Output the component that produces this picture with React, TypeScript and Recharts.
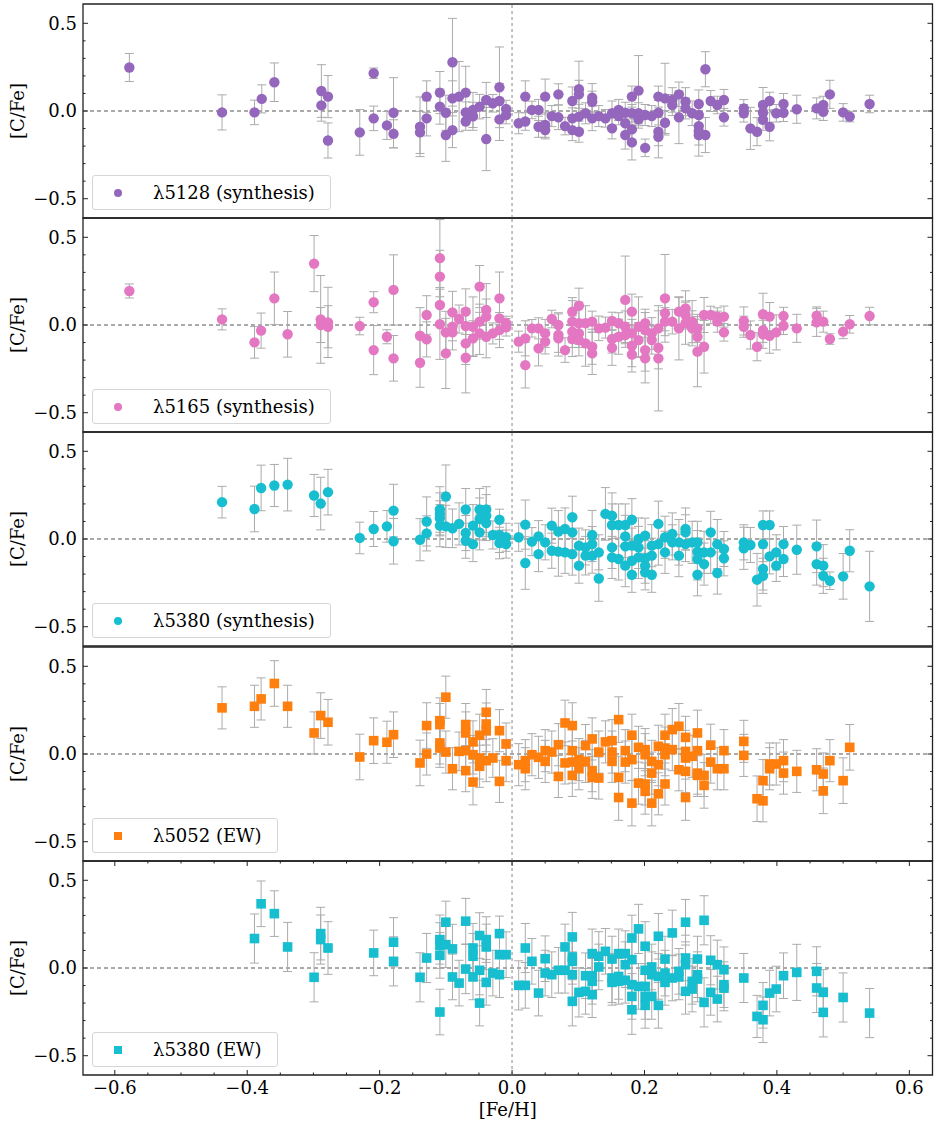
import React from 'react';
import { ScatterChart, Scatter, XAxis, YAxis, ErrorBar, ReferenceLine, ReferenceArea, Legend } from 'recharts';

type Pt = [number, number, number]; // [Fe/H], [C/Fe], error

const feMajorTicks = [-0.6, -0.4, -0.2, 0, 0.2, 0.4, 0.6];
const feMinorTicks = [-0.55, -0.5, -0.45, -0.35, -0.3, -0.25, -0.15, -0.1, -0.05, 0.05, 0.1, 0.15, 0.25, 0.3, 0.35, 0.45, 0.5, 0.55];
const cfeMajorTicks = [-0.5, 0, 0.5];
const cfeMinorTicks = [-0.4, -0.3, -0.2, -0.1, 0.1, 0.2, 0.3, 0.4];

const labels = ['λ5128 (synthesis)', 'λ5165 (synthesis)', 'λ5380 (synthesis)', 'λ5052 (EW)', 'λ5380 (EW)'];
const colors = ['#9467bd', '#e377c2', '#17becf', '#ff7f0e', '#17becf'];
const markers = ['circle', 'circle', 'circle', 'square', 'square'];

const s5128syn: Pt[] = [
  [-0.578, 0.248, 0.08], [-0.438, -0.008, 0.10], [-0.389, -0.008, 0.07], [-0.378, 0.069, 0.08],
  [-0.359, 0.164, 0.11], [-0.288, 0.114, 0.15], [-0.288, 0.032, 0.09], [-0.278, 0.082, 0.12],
  [-0.278, -0.168, 0.10], [-0.230, -0.122, 0.13], [-0.209, 0.215, 0.03], [-0.209, -0.042, 0.07],
  [-0.189, -0.082, 0.08], [-0.179, -0.010, 0.20], [-0.179, -0.130, 0.08], [-0.139, -0.090, 0.17],
  [-0.139, -0.122, 0.12], [-0.129, 0.082, 0.09], [-0.129, -0.042, 0.10],
  [-0.109, 0.105, 0.12], [-0.109, 0.025, 0.10], [-0.100, -0.010, 0.10], [-0.100, -0.137, 0.15],
  [-0.090, 0.278, 0.25], [-0.090, 0.072, 0.10], [-0.090, -0.109, 0.10], [-0.080, 0.082, 0.20],
  [-0.070, 0.105, 0.15], [-0.070, -0.008, 0.06], [-0.070, -0.060, 0.05], [-0.059, 0.006, 0.10],
  [-0.059, -0.030, 0.08], [-0.049, 0.025, 0.07], [-0.039, 0.063, 0.10], [-0.039, -0.160, 0.18],
  [-0.029, 0.044, 0.05], [-0.019, 0.135, 0.23], [-0.019, 0.057, 0.10], [-0.019, -0.048, 0.12],
  [-0.009, 0.011, 0.05], [-0.009, -0.023, 0.05], [0.010, -0.070, 0.06], [0.020, 0.082, 0.09],
  [0.020, -0.060, 0.05], [0.030, 0.006, 0.05], [0.040, 0.006, 0.06], [0.040, -0.090, 0.06],
  [0.050, 0.082, 0.10], [0.050, -0.080, 0.07], [0.050, -0.109, 0.05], [0.060, -0.029, 0.06],
  [0.070, 0.095, 0.06], [0.070, -0.036, 0.07], [0.080, -0.086, 0.05], [0.091, 0.057, 0.08],
  [0.091, -0.042, 0.06], [0.091, -0.109, 0.06], [0.101, 0.124, 0.16], [0.101, 0.095, 0.08],
  [0.101, -0.032, 0.07], [0.101, -0.118, 0.06], [0.111, -0.013, 0.06], [0.121, 0.076, 0.08],
  [0.121, 0.053, 0.06], [0.121, -0.042, 0.07], [0.131, -0.029, 0.06], [0.141, -0.042, 0.05],
  [0.151, -0.099, 0.06], [0.151, -0.013, 0.07], [0.161, 0.006, 0.06], [0.161, -0.029, 0.05],
  [0.171, -0.010, 0.06], [0.171, -0.070, 0.08], [0.171, -0.137, 0.08], [0.181, 0.082, 0.06],
  [0.181, -0.013, 0.05], [0.181, -0.105, 0.06], [0.181, -0.179, 0.10], [0.191, 0.116, 0.20],
  [0.191, -0.013, 0.06], [0.191, -0.048, 0.05], [0.201, -0.023, 0.06], [0.201, -0.210, 0.05],
  [0.211, -0.029, 0.06], [0.221, 0.082, 0.06], [0.221, -0.010, 0.07], [0.221, -0.118, 0.08],
  [0.221, -0.147, 0.12], [0.231, 0.072, 0.20], [0.231, -0.067, 0.07], [0.242, 0.034, 0.06],
  [0.242, 0.063, 0.07], [0.252, 0.095, 0.07], [0.252, -0.036, 0.15], [0.262, 0.053, 0.08],
  [0.262, 0.015, 0.06], [0.272, -0.013, 0.07], [0.282, 0.040, 0.08], [0.282, -0.023, 0.06],
  [0.282, -0.086, 0.07], [0.282, -0.114, 0.08], [0.282, -0.137, 0.12], [0.292, 0.238, 0.10],
  [0.292, -0.137, 0.10], [0.300, 0.057, 0.06], [0.310, 0.034, 0.05], [0.320, 0.063, 0.06],
  [0.320, -0.036, 0.05], [0.350, 0.015, 0.05], [0.350, -0.013, 0.05], [0.360, -0.099, 0.12],
  [0.370, -0.118, 0.08], [0.379, 0.034, 0.10], [0.379, -0.010, 0.06], [0.379, -0.050, 0.06],
  [0.389, 0.057, 0.05], [0.389, -0.090, 0.08], [0.399, -0.013, 0.05], [0.410, 0.040, 0.06],
  [0.410, -0.010, 0.05], [0.430, 0.010, 0.08], [0.460, 0.015, 0.06], [0.470, 0.034, 0.05],
  [0.470, -0.004, 0.05], [0.480, 0.095, 0.08], [0.500, -0.008, 0.05], [0.510, -0.032, 0.03],
  [0.540, 0.040, 0.05],
];

const s5165syn: Pt[] = [
  [-0.578, 0.194, 0.04], [-0.438, 0.032, 0.06], [-0.389, -0.099, 0.09], [-0.379, -0.032, 0.10],
  [-0.359, 0.152, 0.15], [-0.339, -0.053, 0.13], [-0.299, 0.350, 0.16], [-0.289, 0.032, 0.25],
  [-0.289, 0.000, 0.10], [-0.278, 0.015, 0.20], [-0.278, -0.010, 0.12], [-0.230, -0.006, 0.05],
  [-0.209, 0.130, 0.06], [-0.209, -0.143, 0.14], [-0.189, -0.067, 0.04], [-0.179, 0.200, 0.20],
  [-0.179, -0.190, 0.13], [-0.139, -0.061, 0.16], [-0.139, -0.215, 0.14], [-0.129, 0.057, 0.11],
  [-0.129, -0.082, 0.10], [-0.109, 0.381, 0.22], [-0.109, 0.276, 0.15], [-0.109, 0.114, 0.10],
  [-0.109, 0.004, 0.20], [-0.100, -0.042, 0.12], [-0.100, -0.162, 0.20], [-0.090, 0.072, 0.12],
  [-0.090, -0.042, 0.10], [-0.090, -0.010, 0.08], [-0.080, 0.034, 0.08], [-0.070, 0.076, 0.13],
  [-0.070, -0.006, 0.10], [-0.070, -0.105, 0.12], [-0.070, -0.187, 0.20], [-0.059, -0.010, 0.17],
  [-0.059, -0.076, 0.10], [-0.049, 0.219, 0.12], [-0.049, 0.019, 0.10], [-0.049, -0.048, 0.12],
  [-0.039, 0.086, 0.15], [-0.039, 0.048, 0.10], [-0.039, -0.067, 0.12], [-0.029, -0.048, 0.06],
  [-0.019, 0.152, 0.15], [-0.019, 0.038, 0.12], [-0.019, -0.029, 0.10], [-0.009, 0.010, 0.04],
  [-0.009, -0.013, 0.05], [0.010, -0.095, 0.06], [0.020, -0.076, 0.10], [0.020, -0.229, 0.13],
  [0.030, -0.019, 0.05], [0.040, -0.019, 0.06], [0.040, -0.133, 0.10], [0.050, -0.048, 0.08],
  [0.050, -0.095, 0.07], [0.060, 0.034, 0.05], [0.070, 0.000, 0.07], [0.070, -0.057, 0.12],
  [0.070, -0.076, 0.08], [0.080, -0.143, 0.07], [0.091, 0.076, 0.08], [0.091, 0.019, 0.12],
  [0.091, -0.038, 0.09], [0.091, -0.080, 0.10], [0.101, 0.110, 0.10], [0.101, 0.010, 0.12],
  [0.101, -0.048, 0.08], [0.101, -0.086, 0.09], [0.111, 0.010, 0.10], [0.111, -0.105, 0.13],
  [0.121, 0.019, 0.06], [0.121, -0.124, 0.10], [0.121, -0.162, 0.12], [0.131, -0.019, 0.07],
  [0.141, -0.015, 0.06], [0.151, 0.023, 0.05], [0.151, -0.080, 0.08], [0.151, -0.130, 0.10],
  [0.161, 0.010, 0.06], [0.161, -0.067, 0.10], [0.171, 0.143, 0.25], [0.171, -0.010, 0.09],
  [0.171, -0.057, 0.07], [0.181, 0.076, 0.10], [0.181, -0.048, 0.08], [0.181, -0.118, 0.12],
  [0.181, -0.168, 0.10], [0.191, -0.010, 0.17], [0.191, -0.086, 0.10], [0.201, 0.010, 0.08],
  [0.201, -0.029, 0.10], [0.201, -0.143, 0.12], [0.201, -0.190, 0.14], [0.211, -0.048, 0.09],
  [0.211, -0.086, 0.08], [0.221, -0.019, 0.10], [0.221, -0.130, 0.12], [0.221, -0.190, 0.30],
  [0.231, 0.152, 0.25], [0.231, 0.067, 0.10], [0.231, 0.019, 0.08], [0.242, 0.019, 0.07],
  [0.252, 0.076, 0.08], [0.252, -0.019, 0.18], [0.262, 0.095, 0.10], [0.262, 0.057, 0.08],
  [0.262, 0.010, 0.12], [0.272, 0.019, 0.12], [0.272, -0.019, 0.10], [0.280, -0.019, 0.08],
  [0.280, -0.067, 0.10], [0.280, -0.152, 0.20], [0.290, 0.057, 0.10], [0.290, -0.124, 0.15],
  [0.300, 0.057, 0.05], [0.310, 0.048, 0.05], [0.310, 0.019, 0.06], [0.320, 0.048, 0.06],
  [0.320, -0.042, 0.05], [0.350, 0.023, 0.08], [0.350, -0.010, 0.06], [0.360, -0.057, 0.08],
  [0.370, -0.124, 0.08], [0.379, 0.061, 0.12], [0.379, -0.029, 0.07], [0.379, -0.053, 0.08],
  [0.389, 0.048, 0.08], [0.389, -0.061, 0.10], [0.399, -0.042, 0.10], [0.410, 0.051, 0.05],
  [0.410, -0.004, 0.05], [0.430, -0.019, 0.08], [0.460, 0.053, 0.05], [0.460, 0.015, 0.08],
  [0.470, 0.019, 0.06], [0.480, -0.080, 0.03], [0.500, -0.038, 0.04], [0.510, 0.004, 0.05],
  [0.540, 0.051, 0.05],
];

const s5380syn: Pt[] = [
  [-0.438, 0.210, 0.09], [-0.389, 0.171, 0.13], [-0.379, 0.291, 0.13], [-0.359, 0.305, 0.12],
  [-0.339, 0.310, 0.15], [-0.299, 0.248, 0.12], [-0.289, 0.202, 0.15], [-0.278, 0.267, 0.13],
  [-0.230, 0.006, 0.09], [-0.209, 0.057, 0.10], [-0.189, 0.072, 0.09], [-0.179, 0.162, 0.15],
  [-0.179, -0.013, 0.13], [-0.139, -0.004, 0.12], [-0.129, 0.100, 0.14], [-0.129, 0.032, 0.10],
  [-0.109, 0.168, 0.13], [-0.109, 0.143, 0.12], [-0.109, 0.118, 0.10], [-0.109, 0.076, 0.12],
  [-0.100, 0.242, 0.18], [-0.100, 0.072, 0.12], [-0.090, 0.061, 0.11], [-0.080, 0.086, 0.12],
  [-0.070, 0.168, 0.12], [-0.070, 0.034, 0.10], [-0.070, -0.010, 0.10], [-0.059, -0.029, 0.10],
  [-0.059, 0.076, 0.12], [-0.049, 0.168, 0.12], [-0.049, 0.114, 0.12], [-0.049, 0.038, 0.10],
  [-0.039, 0.168, 0.13], [-0.039, 0.133, 0.12], [-0.039, 0.091, 0.10], [-0.029, 0.023, 0.08],
  [-0.019, 0.110, 0.06], [-0.019, 0.023, 0.10], [-0.019, -0.023, 0.09], [-0.009, 0.010, 0.08],
  [-0.009, -0.029, 0.08], [0.010, 0.010, 0.08], [0.020, 0.082, 0.14], [0.020, -0.137, 0.15],
  [0.030, -0.015, 0.08], [0.040, 0.015, 0.09], [0.040, -0.086, 0.10], [0.050, -0.019, 0.10],
  [0.060, 0.076, 0.10], [0.060, -0.067, 0.10], [0.070, 0.042, 0.12], [0.070, -0.072, 0.14],
  [0.080, 0.057, 0.12], [0.080, -0.076, 0.12], [0.091, 0.124, 0.12], [0.091, 0.038, 0.10],
  [0.091, -0.086, 0.12], [0.101, -0.038, 0.10], [0.101, -0.152, 0.10], [0.111, -0.048, 0.10],
  [0.111, -0.095, 0.11], [0.121, 0.023, 0.14], [0.121, -0.029, 0.10], [0.121, -0.095, 0.10],
  [0.131, -0.076, 0.10], [0.131, -0.225, 0.13], [0.141, 0.143, 0.15], [0.151, 0.133, 0.13],
  [0.151, 0.080, 0.12], [0.151, -0.048, 0.12], [0.151, -0.105, 0.12], [0.161, 0.080, 0.12],
  [0.161, -0.114, 0.12], [0.171, 0.080, 0.12], [0.171, 0.015, 0.12], [0.171, -0.042, 0.12],
  [0.171, -0.152, 0.12], [0.181, 0.110, 0.12], [0.181, -0.038, 0.10], [0.181, -0.124, 0.10],
  [0.181, -0.204, 0.10], [0.191, 0.000, 0.12], [0.191, -0.048, 0.12], [0.191, -0.105, 0.12],
  [0.201, 0.019, 0.10], [0.201, -0.110, 0.10], [0.201, -0.152, 0.10], [0.201, -0.190, 0.10],
  [0.211, -0.038, 0.12], [0.211, -0.095, 0.10], [0.211, -0.204, 0.10], [0.221, 0.086, 0.13],
  [0.221, -0.029, 0.12], [0.231, 0.010, 0.12], [0.231, -0.076, 0.12], [0.242, 0.029, 0.12],
  [0.242, -0.019, 0.10], [0.252, -0.019, 0.13], [0.252, -0.095, 0.12], [0.262, 0.057, 0.12],
  [0.262, 0.038, 0.10], [0.262, -0.029, 0.10], [0.272, -0.019, 0.12], [0.280, -0.019, 0.12],
  [0.280, -0.072, 0.12], [0.280, -0.114, 0.12], [0.280, -0.204, 0.12], [0.290, -0.076, 0.12],
  [0.290, -0.143, 0.12], [0.300, 0.038, 0.12], [0.300, -0.076, 0.12], [0.310, -0.029, 0.14],
  [0.310, -0.194, 0.12], [0.320, -0.057, 0.10], [0.320, -0.110, 0.10], [0.350, -0.019, 0.10],
  [0.350, -0.053, 0.12], [0.360, -0.034, 0.10], [0.370, -0.232, 0.15], [0.379, 0.080, 0.08],
  [0.379, -0.029, 0.10], [0.379, -0.171, 0.12], [0.379, -0.210, 0.10], [0.389, 0.080, 0.08],
  [0.389, -0.099, 0.10], [0.399, -0.076, 0.10], [0.399, -0.152, 0.09], [0.410, -0.029, 0.10],
  [0.410, -0.114, 0.10], [0.430, -0.061, 0.14], [0.460, -0.042, 0.15], [0.460, -0.143, 0.12],
  [0.470, -0.152, 0.12], [0.470, -0.210, 0.10], [0.480, -0.238, 0.05], [0.500, -0.213, 0.13],
  [0.510, -0.067, 0.12], [0.540, -0.270, 0.20],
];

const s5052ew: Pt[] = [
  [-0.438, 0.263, 0.12], [-0.389, 0.272, 0.12], [-0.379, 0.314, 0.12], [-0.359, 0.402, 0.13],
  [-0.339, 0.272, 0.12], [-0.299, 0.120, 0.12], [-0.289, 0.219, 0.13], [-0.278, 0.181, 0.13],
  [-0.230, -0.017, 0.13], [-0.209, 0.076, 0.13], [-0.189, 0.067, 0.12], [-0.179, 0.110, 0.13],
  [-0.139, -0.051, 0.13], [-0.129, 0.162, 0.13], [-0.129, 0.000, 0.12], [-0.109, 0.190, 0.13],
  [-0.109, 0.168, 0.12], [-0.109, 0.063, 0.12], [-0.109, 0.034, 0.11], [-0.100, 0.324, 0.12],
  [-0.100, 0.011, 0.12], [-0.090, -0.084, 0.12], [-0.080, 0.015, 0.11], [-0.070, 0.168, 0.12],
  [-0.070, 0.120, 0.12], [-0.070, 0.019, 0.12], [-0.070, -0.095, 0.12], [-0.059, 0.069, 0.12],
  [-0.059, -0.004, 0.11], [-0.059, -0.160, 0.13], [-0.049, 0.107, 0.12], [-0.049, -0.023, 0.12],
  [-0.049, -0.070, 0.12], [-0.039, 0.238, 0.13], [-0.039, 0.171, 0.12], [-0.039, 0.133, 0.12],
  [-0.039, -0.038, 0.12], [-0.029, -0.023, 0.11], [-0.019, 0.133, 0.12], [-0.019, -0.156, 0.12],
  [-0.009, 0.057, 0.12], [-0.009, -0.038, 0.12], [0.010, -0.061, 0.12], [0.020, -0.038, 0.12],
  [0.020, -0.084, 0.12], [0.030, -0.004, 0.12], [0.040, -0.019, 0.12], [0.050, 0.019, 0.12],
  [0.050, -0.042, 0.12], [0.060, 0.011, 0.12], [0.070, 0.053, 0.12], [0.070, -0.128, 0.12],
  [0.080, 0.177, 0.13], [0.080, -0.051, 0.12], [0.091, 0.162, 0.13], [0.091, 0.019, 0.12],
  [0.091, -0.046, 0.12], [0.091, -0.122, 0.12], [0.101, -0.032, 0.12], [0.101, -0.084, 0.12],
  [0.111, 0.048, 0.12], [0.111, -0.042, 0.12], [0.121, 0.086, 0.12], [0.121, -0.095, 0.12],
  [0.121, -0.133, 0.12], [0.131, 0.011, 0.12], [0.131, -0.137, 0.12], [0.141, 0.069, 0.12],
  [0.151, 0.076, 0.12], [0.151, 0.011, 0.12], [0.151, -0.042, 0.12], [0.161, 0.196, 0.13],
  [0.161, -0.133, 0.12], [0.161, -0.248, 0.13], [0.171, 0.019, 0.12], [0.171, -0.046, 0.12],
  [0.181, 0.107, 0.12], [0.181, -0.032, 0.12], [0.181, -0.280, 0.13], [0.191, 0.038, 0.12],
  [0.191, -0.166, 0.12], [0.201, 0.025, 0.12], [0.201, -0.004, 0.12], [0.201, -0.171, 0.12],
  [0.201, -0.213, 0.13], [0.211, -0.042, 0.12], [0.211, -0.109, 0.12], [0.211, -0.280, 0.13],
  [0.221, 0.044, 0.12], [0.221, -0.061, 0.12], [0.221, -0.227, 0.12], [0.231, 0.107, 0.12],
  [0.231, 0.034, 0.12], [0.231, -0.004, 0.12], [0.231, -0.171, 0.12], [0.242, 0.139, 0.12],
  [0.242, 0.025, 0.12], [0.252, 0.158, 0.13], [0.252, -0.090, 0.12], [0.262, 0.095, 0.12],
  [0.262, 0.015, 0.12], [0.262, -0.023, 0.12], [0.262, -0.099, 0.12], [0.262, -0.248, 0.13],
  [0.272, -0.013, 0.12], [0.280, 0.120, 0.13], [0.280, 0.019, 0.12], [0.280, -0.109, 0.12],
  [0.280, -0.122, 0.12], [0.290, -0.122, 0.12], [0.290, -0.179, 0.13], [0.300, 0.050, 0.12],
  [0.300, -0.046, 0.12], [0.310, -0.084, 0.12], [0.320, 0.019, 0.12], [0.320, -0.084, 0.12],
  [0.350, 0.072, 0.12], [0.350, -0.008, 0.12], [0.370, -0.255, 0.13], [0.379, -0.152, 0.12],
  [0.379, -0.267, 0.12], [0.389, -0.057, 0.12], [0.389, -0.084, 0.12], [0.399, -0.057, 0.12],
  [0.410, -0.038, 0.12], [0.410, -0.109, 0.12], [0.430, -0.099, 0.12], [0.460, -0.090, 0.12],
  [0.470, -0.114, 0.12], [0.470, -0.210, 0.13], [0.480, -0.038, 0.12], [0.500, -0.152, 0.13],
  [0.510, 0.038, 0.13],
];

const s5380ew: Pt[] = [
  [-0.389, 0.168, 0.14], [-0.379, 0.366, 0.13], [-0.359, 0.310, 0.13], [-0.339, 0.120, 0.14],
  [-0.299, -0.053, 0.14], [-0.289, 0.196, 0.15], [-0.289, 0.162, 0.14], [-0.278, 0.114, 0.15],
  [-0.209, 0.086, 0.13], [-0.179, 0.147, 0.14], [-0.179, 0.038, 0.14], [-0.139, -0.053, 0.14],
  [-0.129, 0.057, 0.14], [-0.109, 0.162, 0.14], [-0.109, 0.128, 0.13], [-0.109, 0.072, 0.13],
  [-0.109, -0.251, 0.13], [-0.100, 0.261, 0.12], [-0.100, 0.133, 0.13], [-0.090, 0.109, 0.14],
  [-0.090, -0.051, 0.13], [-0.080, -0.086, 0.13], [-0.070, 0.267, 0.13], [-0.070, -0.006, 0.14],
  [-0.059, 0.114, 0.14], [-0.059, 0.067, 0.13], [-0.059, -0.051, 0.13], [-0.049, 0.185, 0.13],
  [-0.049, -0.013, 0.14], [-0.049, -0.200, 0.13], [-0.039, 0.162, 0.13], [-0.039, 0.120, 0.13],
  [-0.039, -0.082, 0.13], [-0.029, -0.029, 0.13], [-0.019, 0.196, 0.10], [-0.019, 0.076, 0.13],
  [-0.019, -0.038, 0.13], [-0.009, 0.076, 0.13], [0.010, -0.099, 0.14], [0.020, 0.114, 0.14],
  [0.020, -0.099, 0.13], [0.030, 0.038, 0.13], [0.040, -0.143, 0.13], [0.050, 0.053, 0.13],
  [0.050, -0.029, 0.13], [0.060, -0.038, 0.13], [0.070, -0.013, 0.13], [0.080, 0.120, 0.13],
  [0.080, -0.013, 0.13], [0.091, 0.177, 0.14], [0.091, 0.063, 0.13], [0.091, 0.038, 0.13],
  [0.091, -0.038, 0.13], [0.091, -0.190, 0.14], [0.101, -0.139, 0.14], [0.111, -0.133, 0.13],
  [0.111, -0.044, 0.13], [0.121, 0.082, 0.14], [0.121, -0.044, 0.13], [0.121, -0.076, 0.13],
  [0.121, -0.152, 0.13], [0.131, 0.067, 0.14], [0.131, 0.006, 0.13], [0.141, 0.095, 0.13],
  [0.151, 0.051, 0.13], [0.151, -0.057, 0.14], [0.151, -0.082, 0.13], [0.161, 0.082, 0.14],
  [0.161, -0.048, 0.13], [0.161, -0.076, 0.13], [0.171, 0.082, 0.13], [0.171, 0.019, 0.13],
  [0.171, -0.070, 0.13], [0.181, 0.171, 0.13], [0.181, 0.048, 0.13], [0.181, -0.095, 0.13],
  [0.181, -0.162, 0.13], [0.181, -0.238, 0.14], [0.191, 0.223, 0.14], [0.191, -0.105, 0.13],
  [0.201, 0.124, 0.14], [0.201, -0.013, 0.13], [0.201, -0.105, 0.13], [0.201, -0.162, 0.13],
  [0.201, -0.213, 0.13], [0.211, 0.006, 0.13], [0.211, -0.038, 0.13], [0.211, -0.162, 0.13],
  [0.221, 0.181, 0.13], [0.221, -0.048, 0.13], [0.221, -0.213, 0.13], [0.231, 0.051, 0.13],
  [0.231, -0.029, 0.13], [0.231, -0.082, 0.13], [0.242, 0.200, 0.13], [0.242, -0.057, 0.13],
  [0.252, -0.019, 0.13], [0.252, -0.051, 0.13], [0.262, 0.261, 0.13], [0.262, 0.057, 0.13],
  [0.262, 0.019, 0.13], [0.262, -0.133, 0.13], [0.272, -0.076, 0.13], [0.272, -0.120, 0.13],
  [0.280, 0.051, 0.13], [0.280, -0.038, 0.13], [0.280, -0.063, 0.13], [0.290, 0.272, 0.14],
  [0.290, -0.196, 0.14], [0.300, 0.044, 0.14], [0.300, -0.139, 0.13], [0.310, 0.019, 0.14],
  [0.310, -0.177, 0.13], [0.320, -0.010, 0.13], [0.320, -0.095, 0.13], [0.320, -0.114, 0.13],
  [0.350, -0.057, 0.14], [0.370, -0.276, 0.12], [0.379, -0.213, 0.13], [0.379, -0.295, 0.13],
  [0.389, -0.143, 0.13], [0.399, -0.120, 0.13], [0.410, -0.044, 0.13], [0.430, -0.025, 0.16],
  [0.460, -0.019, 0.14], [0.460, -0.114, 0.14], [0.470, -0.139, 0.13], [0.470, -0.253, 0.14],
  [0.500, -0.168, 0.14], [0.540, -0.257, 0.14],
];

const series = [s5128syn, s5165syn, s5380syn, s5052ew, s5380ew];

// layout
const FONT = "'DejaVu Serif', serif";
const X_DOMAIN: [number, number] = [-0.648, 0.635];
const Y_DOMAIN: [number, number] = [-0.61, 0.61];
const CHART_W = 934;
const PLOT_LEFT = 83;
const PLOT_RIGHT = 932.5;
const PLOT_H = 214;
const PAD = 2;
const PANEL_TOPS = [4, 218, 432, 647, 861];
const X_AXIS_H = 46;
const FRAME = '#222';

const isMajor = (v: number, majors: number[]) => majors.some((m) => Math.abs(m - v) < 1e-9);
const fmt = (v: number) => (v < -1e-9 ? '\u2212' : '') + Math.abs(v).toFixed(1);

const xTicksAll = [...feMinorTicks, ...feMajorTicks].sort((a, b) => a - b);
const yTicksAll = [...cfeMinorTicks, ...cfeMajorTicks].sort((a, b) => a - b);

function makeXTick(showLabels: boolean) {
  return (props: any) => {
    const { payload } = props;
    const x = payload.coordinate;
    const v = payload.value;
    const major = isMajor(v, feMajorTicks);
    const len = major ? 5 : 2.5;
    const top = PAD;
    const bottom = PAD + PLOT_H;
    return (
      <g>
        <line x1={x} x2={x} y1={bottom} y2={bottom - len} stroke={FRAME} strokeWidth={1} />
        <line x1={x} x2={x} y1={top} y2={top + len} stroke={FRAME} strokeWidth={1} />
        {showLabels && major ? (
          <text x={x} y={bottom + 19} textAnchor="middle" fontSize={18} fontFamily={FONT} fill="#000">
            {fmt(v)}
          </text>
        ) : null}
      </g>
    );
  };
}

const YTick = (props: any) => {
  const { payload } = props;
  const y = payload.coordinate;
  const v = payload.value;
  const major = isMajor(v, cfeMajorTicks);
  const len = major ? 5 : 2.5;
  return (
    <g>
      <line x1={PLOT_LEFT} x2={PLOT_LEFT + len} y1={y} y2={y} stroke={FRAME} strokeWidth={1} />
      <line x1={PLOT_RIGHT} x2={PLOT_RIGHT - len} y1={y} y2={y} stroke={FRAME} strokeWidth={1} />
      {major ? (
        <text x={PLOT_LEFT - 6} y={y + 6.3} textAnchor="end" fontSize={18} fontFamily={FONT} fill="#000">
          {fmt(v)}
        </text>
      ) : null}
    </g>
  );
};

function LegendBox({ label, color, marker }: { label: string; color: string; marker: string }) {
  return (
    <div
      style={{
        boxSizing: 'border-box',
        height: 35,
        display: 'flex',
        alignItems: 'center',
        paddingLeft: 21,
        paddingRight: 15,
        border: '1px solid #d6d6d6',
        borderRadius: 3,
        background: 'rgba(255,255,255,0.85)',
        fontFamily: FONT,
        fontSize: 18,
        color: '#000',
        whiteSpace: 'nowrap',
      }}
    >
      <svg width={8} height={8} style={{ display: 'block' }}>
        {marker === 'circle' ? <circle cx={4} cy={4} r={4} fill={color} /> : <rect x={0} y={0} width={8} height={8} fill={color} />}
      </svg>
      <span style={{ marginLeft: 31, lineHeight: '20px' }}>{label}</span>
    </div>
  );
}

function Panel({ idx }: { idx: number }) {
  const isLast = idx === series.length - 1;
  const color = colors[idx];
  const marker = markers[idx];
  const rows = series[idx].map(([feh, cfe, err]) => ({ feh, cfe, err }));
  const xAxisH = isLast ? X_AXIS_H : 0;
  const height = PAD + PLOT_H + xAxisH + PAD;
  const shape = (p: any) =>
    marker === 'circle' ? (
      <circle cx={p.cx} cy={p.cy} r={5.2} fill={color} />
    ) : (
      <rect x={p.cx - 4.8} y={p.cy - 4.8} width={9.6} height={9.6} fill={color} />
    );
  return (
    <div style={{ position: 'absolute', left: 0, top: PANEL_TOPS[idx] - PAD, width: CHART_W, height }}>
      <ScatterChart
        width={CHART_W}
        height={height}
        margin={{ top: PAD, right: CHART_W - PLOT_RIGHT, bottom: PAD, left: PLOT_LEFT - 60 }}
      >
        <XAxis
          type="number"
          dataKey="feh"
          domain={X_DOMAIN}
          allowDataOverflow
          ticks={xTicksAll}
          interval={0}
          height={xAxisH}
          axisLine={false}
          tickLine={false}
          tick={makeXTick(isLast)}
          label={
            isLast
              ? { value: '[Fe/H]', position: 'insideBottom', offset: 5, fontSize: 18, fontFamily: FONT, fill: '#000' }
              : undefined
          }
        />
        <YAxis
          type="number"
          dataKey="cfe"
          domain={Y_DOMAIN}
          allowDataOverflow
          ticks={yTicksAll}
          interval={0}
          width={60}
          axisLine={false}
          tickLine={false}
          tick={YTick}
          label={{
            value: '[C/Fe]',
            angle: -90,
            position: 'insideLeft',
            offset: -5,
            fontSize: 18,
            fontFamily: FONT,
            fill: '#000',
            style: { textAnchor: 'middle' },
          }}
        />
        <ReferenceLine x={0} stroke="#b0b0b0" strokeWidth={1.5} strokeDasharray="3 3" />
        <ReferenceLine y={0} stroke="#555" strokeWidth={1} strokeDasharray="4 3" />
        <Scatter data={rows} isAnimationActive={false} shape={shape}>
          <ErrorBar dataKey="err" direction="y" width={4.5} stroke="#ababab" strokeWidth={1} />
        </Scatter>
        <ReferenceArea
          x1={X_DOMAIN[0]}
          x2={X_DOMAIN[1]}
          y1={Y_DOMAIN[0]}
          y2={Y_DOMAIN[1]}
          fill="none"
          fillOpacity={0}
          stroke={FRAME}
          strokeWidth={1.3}
        />
        <Legend
          layout="vertical"
          align="center"
          verticalAlign="middle"
          wrapperStyle={{ position: 'absolute', left: 92, top: PAD + PLOT_H - 43, width: 'auto', height: 'auto' }}
          content={() => <LegendBox label={labels[idx]} color={color} marker={marker} />}
        />
      </ScatterChart>
    </div>
  );
}

export default function App() {
  return (
    <div style={{ position: 'absolute', left: 0, top: 0, width: 934, height: 1124, background: '#fff' }}>
      {series.map((_, i) => (
        <Panel key={i} idx={i} />
      ))}
    </div>
  );
}
